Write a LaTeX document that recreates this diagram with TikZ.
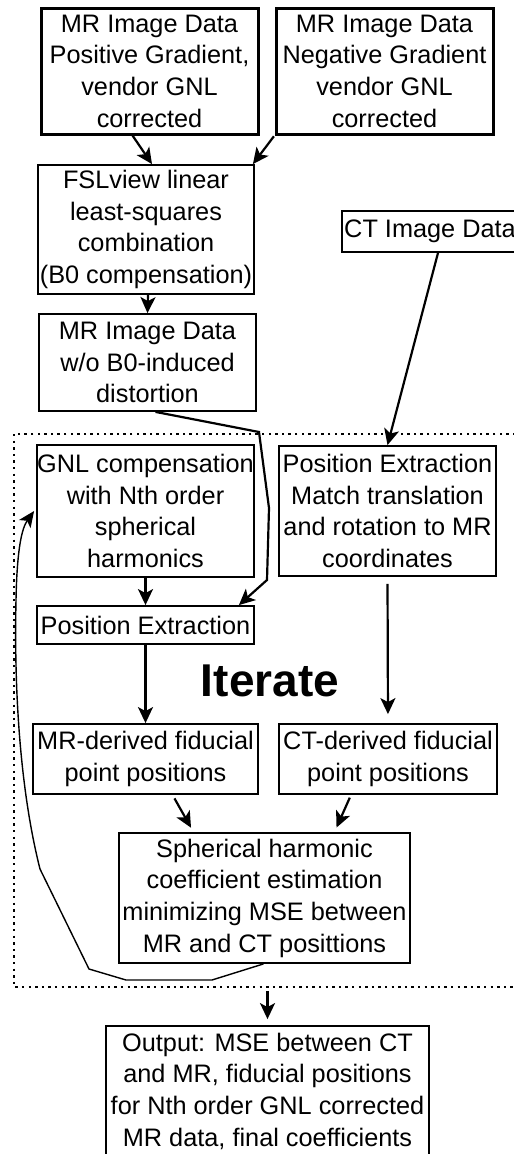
\documentclass[tikz,border=0pt]{standalone}
\usepackage{fontspec}
\setmainfont{Liberation Sans}
\usetikzlibrary{arrows.meta, positioning}

\begin{document}
\begin{tikzpicture}[x=1pt,y=-1pt,
  box/.style={draw,line width=1.8pt,align=center,inner sep=0pt,
    font=\fontsize{25.3pt}{31.7pt}\selectfont},
  inbox/.style={box,line width=3pt},
  arr/.style={-{Stealth[length=16pt,width=15pt,inset=4pt]},line width=2.2pt},
  back/.style={-{Stealth[length=16pt,width=14pt,inset=4pt]},line width=1.4pt},
  frame/.style={line width=2.4pt,dash pattern=on 2.4pt off 4.2pt}]
\fill[white] (0,0) rectangle (514,1154);
\useasboundingbox (0,0) rectangle (514,1154);

% input data
\node[inbox,minimum width=217pt,minimum height=126pt] (pos) at (149.5,71)
  {MR Image Data\\Positive Gradient,\\vendor GNL\\corrected};
\node[inbox,minimum width=217pt,minimum height=126pt] (neg) at (384.5,71)
  {MR Image Data\\Negative Gradient\\vendor GNL\\corrected};
\node[box,minimum width=216pt,minimum height=129pt] (fsl) at (146,229.5)
  {FSLview linear\\least-squares\\combination\\(B0 compensation)};
\node[box,minimum width=176pt,minimum height=41pt] (ct) at (430,231.5) {CT Image Data};
\node[box,minimum width=217pt,minimum height=97pt] (wo) at (147.5,362.5)
  {MR Image Data\\w/o B0-induced\\distortion};

% iteration loop
\draw[frame] (14,434) rectangle (530,987);
\node[box,minimum width=217pt,minimum height=132pt] (gnl) at (145.5,511)
  {GNL compensation\\with Nth order\\spherical\\harmonics};
\node[box,minimum width=217pt,minimum height=130pt] (pex) at (387.5,511)
  {Position Extraction\\Match translation\\and rotation to MR\\coordinates};
\node[box,minimum width=217pt,minimum height=38pt] (pem) at (145.5,625) {Position Extraction};
\node[font=\fontsize{46pt}{50pt}\selectfont\bfseries] (iter) at (270,681) {Iterate};
\node[box,minimum width=225pt,minimum height=70pt] (mrd) at (145.5,759)
  {MR-derived fiducial\\point positions};
\node[box,minimum width=218pt,minimum height=70pt] (ctd) at (388,759)
  {CT-derived fiducial\\point positions};
\node[box,minimum width=291pt,minimum height=130pt] (sh) at (264.5,898)
  {Spherical harmonic\\coefficient estimation\\minimizing MSE between\\MR and CT posittions};

% result
\node[box,minimum width=323pt,minimum height=130pt] (out) at (267.5,1091)
  {Output: MSE between CT\\and MR, fiducial positions\\for Nth order GNL corrected\\MR data, final coefficients};

\draw[arr] ([xshift=-17pt]pos.south) -- ([xshift=6pt]fsl.north);
\draw[arr,shorten <=1pt] (neg.south west) -- ([xshift=-2pt]fsl.north east);
\draw[arr] ([xshift=2pt]fsl.south) -- (wo.north);
\draw[arr] ([xshift=8pt]ct.south) -- (pex.north);
\draw[arr] ([xshift=8pt]wo.south) -- (259,432) -- (269,508) -- (267,580)
  -- ([xshift=-16pt]pem.north east);
\draw[arr] (gnl.south) -- (pem.north);
\draw[arr] (pem.south) -- (mrd.north);
\draw[arr,shorten <=7pt,shorten >=9pt] (pex.south) -- (ctd.north);
\draw[arr,shorten <=4pt,shorten >=5pt] ([xshift=27pt]mrd.south) -- ([xshift=-71pt]sh.north);
\draw[arr,shorten <=3pt,shorten >=5pt] ([xshift=-37pt]ctd.south) -- ([xshift=70pt]sh.north);
\draw[arr,shorten <=27pt,shorten >=6pt] (sh.south -| out.north) -- (out.north);

% feedback to the GNL step
\draw[back] ([xshift=-1pt]sh.south) -- (212,980) -- (126,980) -- (89,969) -- (40,869)
  .. controls (20,790) and (14,690) .. (16,600)
  .. controls (17,548) and (22,528) .. ([xshift=-2pt]gnl.west);
\end{tikzpicture}
\end{document}
